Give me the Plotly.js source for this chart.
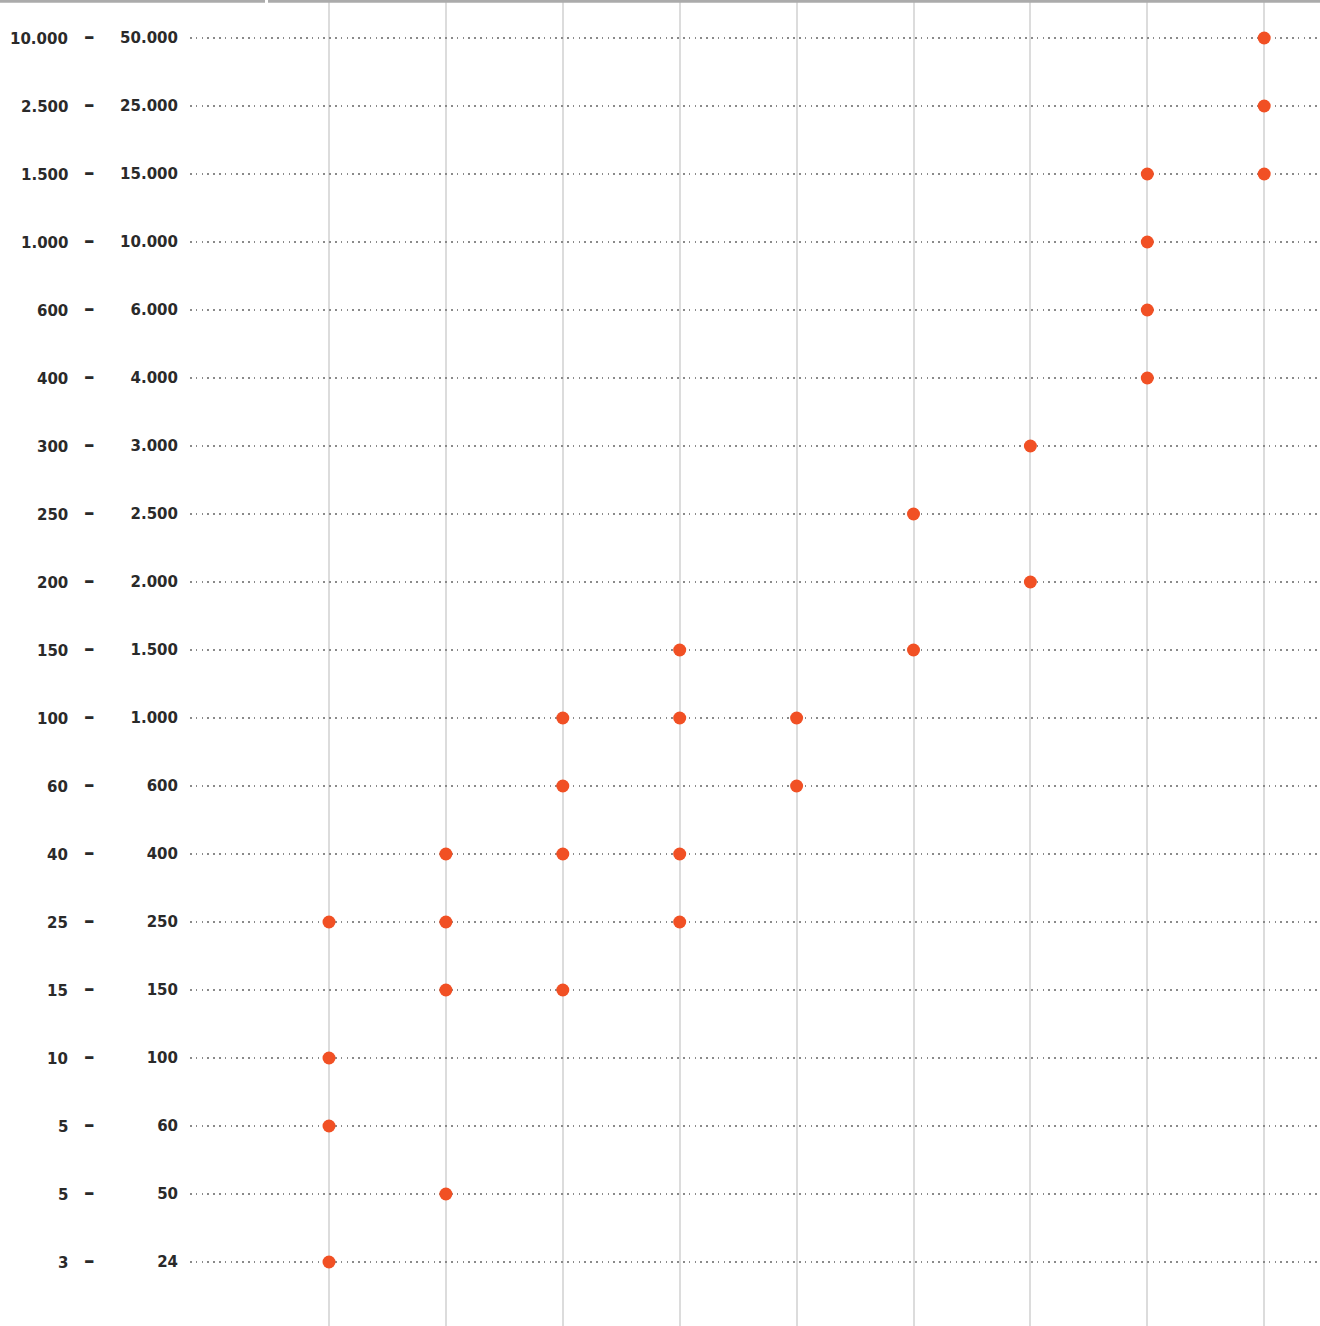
<!DOCTYPE html>
<html>
<head>
<meta charset="utf-8">
<script src="https://cdn.plot.ly/plotly-3.0.1.min.js"></script>
<style>html,body{margin:0;padding:0;background:#fff;}#chart{width:1320px;height:1326px;}</style>
</head>
<body>
<div id="chart"></div>
<script>
// Row labels, bottom to top
var leftLabels  = ["3","5","5","10","15","25","40","60","100","150","200","250","300","400","600","1.000","1.500","2.500","10.000"];
var rightLabels = ["24","50","60","100","150","250","400","600","1.000","1.500","2.000","2.500","3.000","4.000","6.000","10.000","15.000","25.000","50.000"];
var columns = [0,1,2,3,4,5,6,7,8];
// Points per column, given by the right-hand label of the row
var col0 = ["250","100","60","24"];
var col1 = ["400","250","150","50"];
var col2 = ["1.000","600","400","150"];
var col3 = ["1.500","1.000","400","250"];
var col4 = ["1.000","600"];
var col5 = ["2.500","1.500"];
var col6 = ["3.000","2.000"];
var col7 = ["15.000","10.000","6.000","4.000"];
var col8 = ["50.000","25.000","15.000"];
var colData = [col0,col1,col2,col3,col4,col5,col6,col7,col8];

var xs = [], ys = [];
colData.forEach(function(c, i){
  c.forEach(function(lab){
    xs.push(columns[i]);
    ys.push(rightLabels.indexOf(lab));
  });
});

var W = 1320, H = 1326, L = 190;
var pw = W - L;
function px2paperX(p){ return (p - L)/pw; }

var idx = rightLabels.map(function(_, i){ return i; });

var font = {family: "DejaVu Sans, sans-serif", size: 15, color: "#2a2a2a", weight: 700};
var dashFont = {family: "DejaVu Sans, sans-serif", size: 21, color: "#2a2a2a", weight: 700};

var annotations = [];
idx.forEach(function(i){
  annotations.push({xref:"paper", yref:"y", x: px2paperX(70), y: i, text: leftLabels[i],
    showarrow:false, xanchor:"right", yanchor:"middle", yshift: -1, font: font});
  annotations.push({xref:"paper", yref:"y", x: px2paperX(89), y: i, text: "–",
    showarrow:false, xanchor:"center", yanchor:"middle", yshift: 1, font: dashFont});
});

var trace = {
  type: "scatter", mode: "markers", x: xs, y: ys,
  marker: {size: 13, color: "#f15024"},
  hoverinfo: "skip", cliponaxis: false
};

var layout = {
  width: W, height: H,
  margin: {l: L, r: 0, t: 0, b: 0, pad: 0},
  paper_bgcolor: "#fff", plot_bgcolor: "#fff",
  showlegend: false,
  xaxis: {
    range: [(190-329)/116.9, (1320-329)/116.9],
    tickmode: "array", tickvals: columns, showticklabels: false,
    showgrid: true, gridcolor: "#dcdcdc", gridwidth: 2,
    zeroline: false, showline: false, ticks: "", fixedrange: true
  },
  yaxis: {
    range: [18 + 38/68 - H/68, 18 + 38/68],
    tickmode: "array", tickvals: idx, ticktext: rightLabels,
    tickfont: font, ticks: "", ticklabelstandoff: 11,
    showgrid: true, gridcolor: "#8a8a8a", gridwidth: 1.5, griddash: "1.5px,4.3px",
    zeroline: false, showline: false, fixedrange: true
  },
  shapes: [
    {type:"line", xref:"paper", yref:"paper", x0: px2paperX(0), x1: px2paperX(265), y0: 1-1.2/H, y1: 1-1.2/H,
     line:{color:"#ababab", width:3}},
    {type:"line", xref:"paper", yref:"paper", x0: px2paperX(268), x1: 1, y0: 1-1.2/H, y1: 1-1.2/H,
     line:{color:"#ababab", width:3}}
  ],
  annotations: annotations
};

Plotly.newPlot("chart", [trace], layout, {displayModeBar: false, staticPlot: true});
</script>
</body>
</html>
